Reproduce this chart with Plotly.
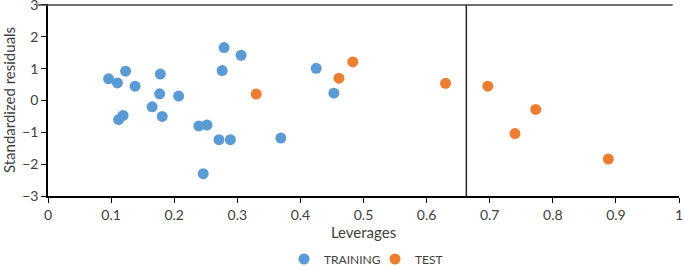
import plotly.graph_objects as go

train_x = [0.096, 0.110, 0.123, 0.138, 0.112, 0.119, 0.165, 0.178, 0.177, 0.181,
           0.207, 0.239, 0.252, 0.271, 0.289, 0.246, 0.279, 0.276, 0.306, 0.369,
           0.425, 0.453]
train_y = [0.68, 0.55, 0.92, 0.45, -0.60, -0.47, -0.20, 0.83, 0.21, -0.50,
           0.14, -0.80, -0.77, -1.23, -1.23, -2.30, 1.66, 0.94, 1.42, -1.18,
           1.01, 0.23]
test_x = [0.330, 0.461, 0.483, 0.630, 0.697, 0.773, 0.740, 0.888]
test_y = [0.20, 0.70, 1.21, 0.54, 0.45, -0.28, -1.04, -1.84]
h_star = 0.663
res_limit = 3
x_ticks = [0, 0.1, 0.2, 0.3, 0.4, 0.5, 0.6, 0.7, 0.8, 0.9, 1]
x_labels = ["0", "0.1", "0.2", "0.3", "0.4", "0.5", "0.6", "0.7", "0.8", "0.9", "1"]
y_ticks = [-3, -2, -1, 0, 1, 2, 3]

font = dict(family="Lato, 'Open Sans', sans-serif", size=14, color="#404040")

fig = go.Figure()
fig.add_trace(go.Scatter(x=train_x, y=train_y, mode="markers", name="TRAINING",
                         marker=dict(color="#5B9BD5", size=11), cliponaxis=False))
fig.add_trace(go.Scatter(x=test_x, y=test_y, mode="markers", name="TEST",
                         marker=dict(color="#ED7D31", size=11), cliponaxis=False))

fig.add_shape(type="line", xref="x", yref="y", x0=h_star, x1=h_star, y0=-res_limit, y1=res_limit,
              line=dict(color="#262626", width=1.5))
fig.add_shape(type="line", xref="paper", yref="y", x0=-0.017, x1=0.99, y0=res_limit, y1=res_limit,
              line=dict(color="#404040", width=1.5))

fig.update_layout(
    width=685, height=267,
    margin=dict(l=48, r=6, t=4, b=71),
    plot_bgcolor="white", paper_bgcolor="white",
    font=font,
    showlegend=True,
    legend=dict(orientation="h", x=0.374, xanchor="left",
                yref="container", y=0.03, yanchor="middle",
                font=dict(size=12, color="#404040"),
                itemwidth=30, entrywidth=46, entrywidthmode="pixels",
                tracegroupgap=0),
)
fig.update_xaxes(range=[0, 1], tickvals=x_ticks, ticktext=x_labels,
                 showline=True, linecolor="black", linewidth=1.5,
                 ticks="outside", ticklen=5, tickcolor="black",
                 ticklabeloverflow="allow",
                 showgrid=False, zeroline=False, automargin=False,
                 title=dict(text="Leverages", standoff=5, font=dict(size=15)))
fig.update_yaxes(range=[-3, 3.03], tickvals=y_ticks,
                 showline=True, linecolor="black", linewidth=1.5,
                 ticks="outside", ticklen=5, tickcolor="black",
                 ticklabeloverflow="allow",
                 showgrid=False, zeroline=False, automargin=False,
                 title=dict(text="Standardized residuals", standoff=9, font=dict(size=15)))

fig.write_html("out.html", config={"displayModeBar": False},
               post_script="document.body.style.margin='0';")
